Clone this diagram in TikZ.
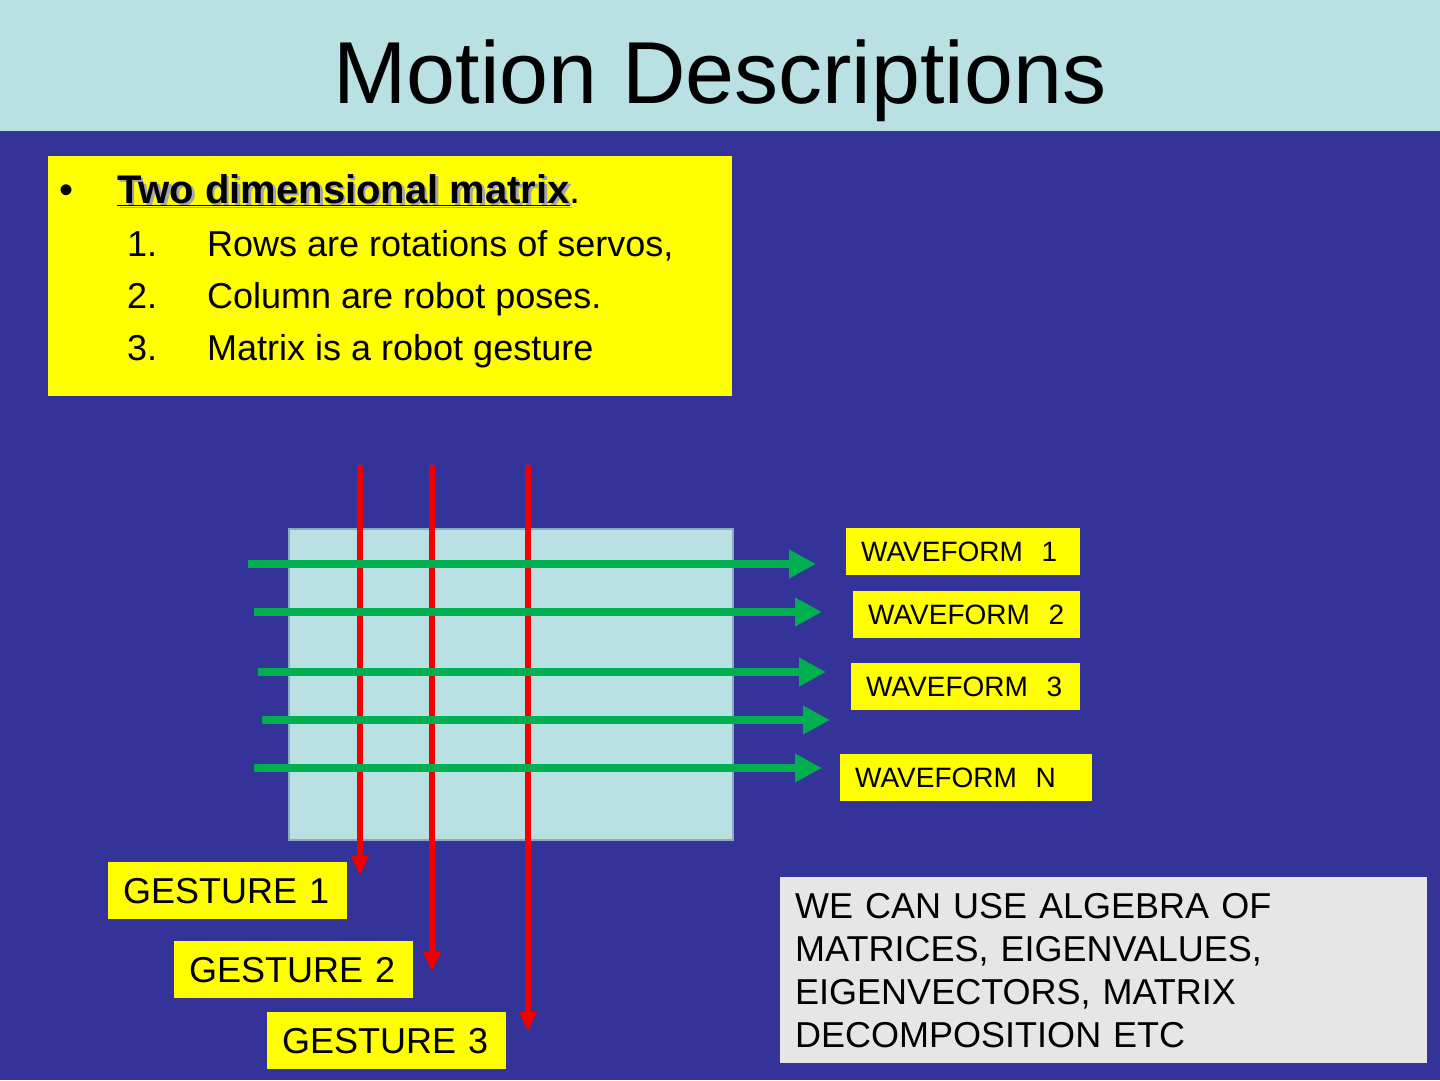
\documentclass[tikz,border=0pt]{standalone}
\usepackage{fontspec}
\setmainfont{Liberation Sans}
\usetikzlibrary{arrows.meta}
\definecolor{bgblue}{HTML}{333399}
\definecolor{lightteal}{HTML}{B9E0E3}
\definecolor{arrgreen}{HTML}{00B050}
\definecolor{arrred}{HTML}{F00000}
\definecolor{ylw}{HTML}{FFFF00}
\definecolor{lgrey}{HTML}{E6E6E6}
\definecolor{matborder}{HTML}{8FA9C2}
\begin{document}
\begin{tikzpicture}[x=1pt,y=-1pt,
  labelbox/.style={fill=ylw, anchor=north west, inner xsep=15pt, inner ysep=0pt, align=left},
  wavebox/.style={labelbox, font=\fontsize{28}{32}\selectfont, minimum height=47pt},
  gestbox/.style={labelbox, font=\fontsize{36}{40}\selectfont, minimum height=57pt},
  garrow/.style={draw=arrgreen, line width=8pt, -{Triangle[length=27pt,width=27pt]}},
  rarrow/.style={draw=arrred, line width=5.5pt, -{Triangle[length=20pt,width=16pt]}},
  itemtxt/.style={anchor=base west, font=\fontsize{36}{40}\selectfont}]
\useasboundingbox (0,0) rectangle (1440,1080);
\fill[bgblue] (0,0) rectangle (1440,1080);
\fill[lightteal] (0,0) rectangle (1440,131);
\node[anchor=base, inner sep=0pt, font=\fontsize{88}{100}\selectfont] (title) at (720,103) {Motion Descriptions};

% info box
\node[fill=ylw, anchor=north west, minimum width=684pt, minimum height=240pt, inner sep=0pt] (info) at (48,156) {};
\node[anchor=base, inner sep=0pt, font=\fontsize{40}{44}\selectfont] (bullet) at (67,203) {•};
\node[anchor=base west, inner sep=0pt, text=gray!70, font=\fontsize{40}{44}\selectfont\bfseries] (headshadow) at (119.5,205.5) {\underline{Two dimensional matrix}};
\node[anchor=base west, inner sep=0pt, font=\fontsize{40}{44}\selectfont] (head) at (117,203) {\textbf{\underline{Two dimensional matrix}}.};
\node[itemtxt, inner sep=0pt] (n1) at (127,256) {1.};
\node[itemtxt, inner sep=0pt] (t1) at (207,256) {Rows are rotations of servos,};
\node[itemtxt, inner sep=0pt] (n2) at (127,308) {2.};
\node[itemtxt, inner sep=0pt] (t2) at (207,308) {Column are robot poses.};
\node[itemtxt, inner sep=0pt] (n3) at (127,360) {3.};
\node[itemtxt, inner sep=0pt] (t3) at (207,360) {Matrix is a robot gesture};

% matrix
\node[fill=lightteal, draw=matborder, line width=2pt, anchor=north west, minimum width=444pt, minimum height=311pt, inner sep=0pt] (mat) at (288,528) {};

% red column arrows
\coordinate (r1s) at (360,465); \coordinate (r1e) at (360,876);
\coordinate (r2s) at (432,465); \coordinate (r2e) at (432,972);
\coordinate (r3s) at (528,465); \coordinate (r3e) at (528,1032);
\draw[rarrow] (r1s) -- (r1e);
\draw[rarrow] (r2s) -- (r2e);
\draw[rarrow] (r3s) -- (r3e);

% green row arrows
\coordinate (g1s) at (248,564); \coordinate (g1e) at (816,564);
\coordinate (g2s) at (254,612); \coordinate (g2e) at (822,612);
\coordinate (g3s) at (258,672); \coordinate (g3e) at (826,672);
\coordinate (g4s) at (262,720); \coordinate (g4e) at (830,720);
\coordinate (g5s) at (254,768); \coordinate (g5e) at (822,768);
\draw[garrow] (g1s) -- (g1e);
\draw[garrow] (g2s) -- (g2e);
\draw[garrow] (g3s) -- (g3e);
\draw[garrow] (g4s) -- (g4e);
\draw[garrow] (g5s) -- (g5e);

% waveform labels
\node[wavebox, minimum width=234pt, text width=204pt] (w1) at (846,528) {WAVEFORM\ \ 1};
\node[wavebox, minimum width=227pt, text width=197pt] (w2) at (853,591) {WAVEFORM\ \ 2};
\node[wavebox, minimum width=229pt, text width=199pt] (w3) at (851,663) {WAVEFORM\ \ 3};
\node[wavebox, minimum width=252pt, text width=222pt] (wn) at (840,754) {WAVEFORM\ \ N};

% gesture labels
\node[gestbox, minimum width=239pt, text width=209pt] (ge1) at (108,862) {GESTURE 1};
\node[gestbox, minimum width=239pt, text width=209pt] (ge2) at (174,941) {GESTURE 2};
\node[gestbox, minimum width=239pt, text width=209pt] (ge3) at (267,1012) {GESTURE 3};

% note
\node[fill=lgrey, anchor=north west, minimum width=647pt, minimum height=186pt, text width=617pt, inner xsep=15pt, inner ysep=0pt, align=left, font=\fontsize{36}{43}\selectfont] (note) at (780,877) {WE CAN USE ALGEBRA OF\\MATRICES, EIGENVALUES,\\EIGENVECTORS, MATRIX\\DECOMPOSITION ETC};
\end{tikzpicture}
\end{document}
